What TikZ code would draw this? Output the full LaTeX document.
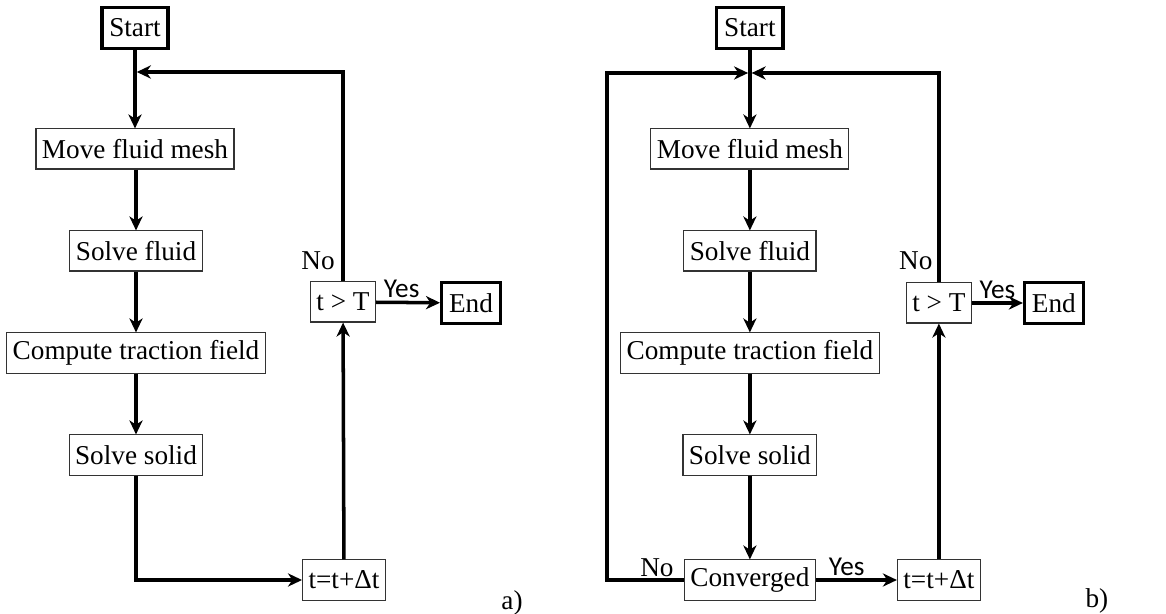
\documentclass[tikz,border=0pt]{standalone}
\usepackage{fontspec}
\setmainfont{Liberation Serif}
\newfontfamily\yesfont{Carlito}
\usetikzlibrary{arrows.meta}
\tikzset{stepnode/.style={draw=black!80, line width=0.6pt, minimum height=22.8pt, inner xsep=3.4pt, font=\fontsize{15.5}{18}\selectfont},
  endnode/.style={stepnode, draw=black, line width=1.9pt, inner xsep=4.2pt, minimum height=23.5pt},
  flow/.style={line width=2pt, -{Stealth[length=8pt, width=7.5pt, inset=2.5pt]}},
  yeslabel/.style={font=\yesfont\fontsize{15.5}{18}\selectfont, inner sep=1.5pt},
  nolabel/.style={font=\fontsize{15.5}{18}\selectfont, inner sep=1pt}}

\begin{document}
\begin{tikzpicture}[x=0.02cm, y=-0.02cm]

\useasboundingbox (0,0) rectangle (1166,614);

\begin{scope}[xshift=0cm]

  % nodes
  \node [style = endnode] (start) at (135, 28) {Start};
  \node [style = stepnode] (mesh) at (135, 149) {Move fluid mesh};
  \node [style = stepnode] (fluid) at (136, 251) {Solve fluid};
  \node [style = stepnode] (trac) at (136, 353) {Compute traction field};
  \node [style = stepnode] (solid) at (136, 455) {Solve solid};
  \node [style = stepnode] (update) at (344, 580) {t=t+Δt};
  \node [style = stepnode] (tgt) at (343, 302) {t > T};
  \node [style = endnode] (fin) at (471, 303) {End};
  \node [style = nolabel] (no) at (318, 261) {No};
  \node [style = nolabel] (tag) at (512, 603) {a)};
  \coordinate (jn) at (135, 72);

  % edges
  \draw [flow] (start) to (mesh);
  \draw [flow] (mesh.south -| fluid) to (fluid);
  \draw [flow] (fluid) to (trac);
  \draw [flow] (trac) to (solid);
  \draw [flow] (solid) |- (update);
  \draw [flow] (update) to (tgt);
  \draw [flow] (tgt) to node [style = yeslabel, above, pos = 0.4] (yes) {Yes} (fin);
  \draw [flow, shorten >= 1pt] (tgt) |- (jn);

\end{scope}

\begin{scope}[xshift=12.3cm]

  % nodes
  \node [style = endnode] (start) at (135, 28) {Start};
  \node [style = stepnode] (mesh) at (135, 149) {Move fluid mesh};
  \node [style = stepnode] (fluid) at (135, 251) {Solve fluid};
  \node [style = stepnode] (trac) at (135, 353) {Compute traction field};
  \node [style = stepnode] (solid) at (135, 455) {Solve solid};
  \node [style = stepnode] (conv) at (135, 580) {Converged};
  \node [style = stepnode] (update) at (324, 580) {t=t+Δt};
  \node [style = stepnode] (tgt) at (324, 303) {t > T};
  \node [style = endnode] (fin) at (439, 303) {End};
  \node [style = nolabel] (no) at (301, 261) {No};
  \node [style = nolabel] (tag) at (482, 601) {b)};
  \coordinate (jn) at (135, 73);
  \coordinate (back) at (-8, 580);

  % edges
  \draw [flow] (start) to (mesh);
  \draw [flow] (mesh) to (fluid);
  \draw [flow] (fluid) to (trac);
  \draw [flow] (trac) to (solid);
  \draw [flow] (solid) to (conv);
  \draw [flow] (conv) to node [style = yeslabel, above, pos = 0.38] (yes2) {Yes} (update);
  \draw [flow] (update) to (tgt);
  \draw [flow] (tgt) to node [style = yeslabel, above, pos = 0.5] (yes) {Yes} (fin);
  \draw [flow, shorten >= 1pt] (tgt) |- (jn);
  \draw [flow, shorten >= 1pt] (conv) to node [style = nolabel, above, pos = 0.35] (no2) {No} (back) |- (jn);

\end{scope}

\end{tikzpicture}
\end{document}
